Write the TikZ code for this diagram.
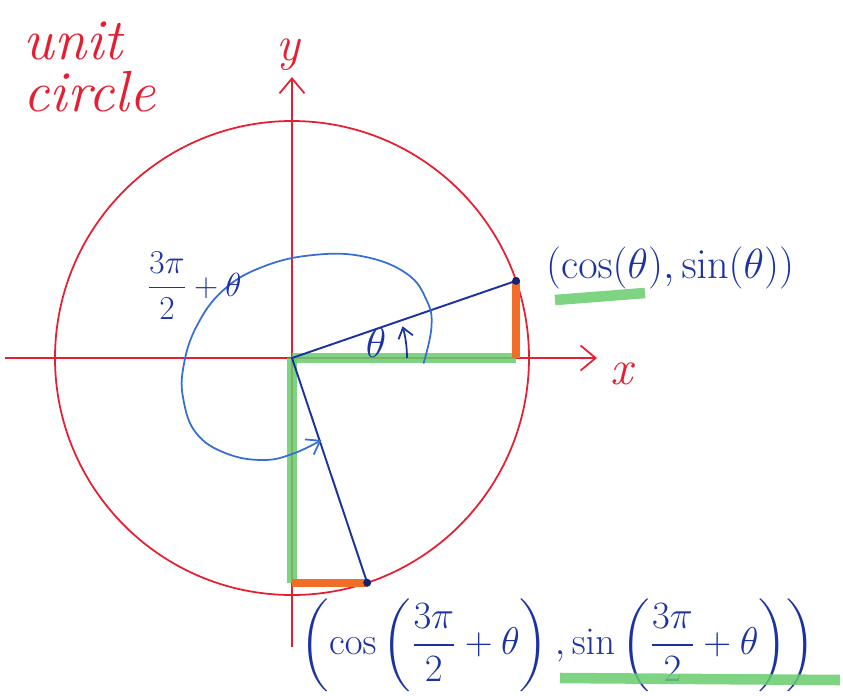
\documentclass[tikz,border=0pt]{standalone}
\usepackage{fix-cm}
\usepackage{amsmath}
\usepackage{amssymb}
\usepackage{tikz}
\usepackage{xcolor}
\usetikzlibrary{arrows.meta}
\definecolor{penred}{RGB}{230,30,50}
\definecolor{penblue}{RGB}{28,50,160}
\definecolor{loopblue}{RGB}{55,110,210}
\definecolor{markgreen}{RGB}{105,205,110}
\definecolor{markorange}{RGB}{240,110,40}
\begin{document}
\begin{tikzpicture}[
  axis/.style={penred, line width=1pt, -{Straight Barb[length=3mm,width=5mm]}},
  greenmark/.style={markgreen, line width=6pt, opacity=0.85},
  orangemark/.style={markorange, line width=4.5pt},
  radiusline/.style={penblue, line width=1.1pt},
  bigtext/.style={font=\fontsize{24}{28}\selectfont},
]
\useasboundingbox (-5.84,-6.74) rectangle (11.02,7.16);
\coordinate (O) at (0,0);
\coordinate (P) at (19:4.74);
\coordinate (Q) at (-71.5:4.74);
\coordinate (xstart) at (-5.74,0);
\coordinate (xend) at (6.1,0);
\coordinate (ystart) at (0,-5.78);
\coordinate (yend) at (0,5.62);

\draw[penred, line width=1pt] (O) circle[radius=4.74];
\draw[axis] (xstart) -- (xend);
\draw[axis] (ystart) -- (yend);
\node[penred, font=\fontsize{28}{30}\selectfont\itshape] (xlabel) at (6.6,-0.32) {x};
\node[penred, font=\fontsize{28}{30}\selectfont\itshape] (ylabel) at (-0.08,6.06) {y};
\node[penred, align=left, font=\fontsize{33}{30}\selectfont\itshape] (title) at (-4.05,5.82) {unit\\circle};

\draw[greenmark] (O) -- (P |- O);
\draw[greenmark] (O) -- (O |- Q);
\draw[orangemark] (P) -- (P |- O);
\draw[orangemark] (O |- Q) -- (Q);

\draw[radiusline] (O) -- (P);
\draw[radiusline] (O) -- (Q);
\fill[penblue!70!black] (P) circle[radius=0.08];
\fill[penblue!70!black] (Q) circle[radius=0.08];

\draw[penblue, line width=1pt, -{Straight Barb[length=2mm,width=3mm]}]
  (O) ++(0:2.3) arc[start angle=0, end angle=16, radius=2.3];
\node[penblue, bigtext] (theta) at (1.68,0.3) {$\theta$};

\draw[loopblue, line width=1pt, -{Straight Barb[length=2.5mm,width=3.5mm]}]
  plot[smooth, tension=0.7] coordinates {(2.63,-0.11) (2.79,0.63) (2.69,1.16) (2.29,1.69)
  (1.43,2.03) (0.43,2.06) (-0.57,1.83) (-1.37,1.36) (-1.91,0.63) (-2.17,-0.17)
  (-2.17,-0.84) (-1.91,-1.51) (-1.31,-1.91) (-0.57,-2.04) (0.03,-1.91) (0.59,-1.64)};
\node[penblue, font=\fontsize{19}{23}\selectfont] (turn) at (-1.95,1.45) {$\dfrac{3\pi}{2}+\theta$};

\node[penblue, bigtext, anchor=west] (plabel) at (4.96,1.8) {$(\cos(\theta), \sin(\theta))$};
\node[penblue, font=\fontsize{22}{26}\selectfont, anchor=west] (qlabel) at (0.05,-5.74)
  {$\left(\cos\left(\dfrac{3\pi}{2}+\theta\right), \sin\left(\dfrac{3\pi}{2}+\theta\right)\right)$};

\draw[greenmark] (5.26,1.16) -- (7.06,1.3);
\draw[greenmark] (5.36,-6.4) -- (10.96,-6.44);
\end{tikzpicture}
\end{document}
